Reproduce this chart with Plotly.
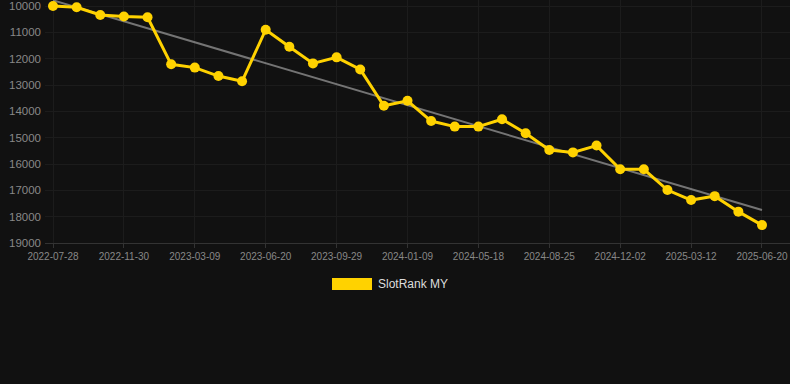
import numpy as np
import plotly.graph_objects as go

dates = [
    "2022-07-28", "2022-09-08", "2022-10-19", "2022-11-30", "2023-01-02", "2023-02-04",
    "2023-03-09", "2023-04-12", "2023-05-16", "2023-06-20", "2023-07-24", "2023-08-27",
    "2023-09-29", "2023-11-02", "2023-12-06", "2024-01-09", "2024-02-21", "2024-04-04",
    "2024-05-18", "2024-06-20", "2024-07-23", "2024-08-25", "2024-09-27", "2024-10-30",
    "2024-12-02", "2025-01-04", "2025-02-07", "2025-03-12", "2025-04-14", "2025-05-17",
    "2025-06-20",
]
ranks = [
    10000, 10050, 10340, 10400, 10430, 12215, 12340, 12660, 12860, 10900, 11545,
    12180, 11950, 12410, 13790, 13600, 14370, 14580, 14580, 14300, 14830, 15470,
    15560, 15300, 16200, 16200, 16990, 17370, 17220, 17810, 18320,
]
tick_dates = dates[::3]
y_ticks = [10000, 11000, 12000, 13000, 14000, 15000, 16000, 17000, 18000, 19000]
y_tick_text = [str(v) for v in y_ticks]
series_name = "SlotRank MY"

idx = np.arange(len(ranks))
slope, intercept = np.polyfit(idx, ranks, 1)
trend = slope * idx + intercept

YELLOW = "#FFD200"
FONT = "Arial, Liberation Sans, sans-serif"

fig = go.Figure()
fig.add_trace(go.Scatter(
    x=dates, y=trend, mode="lines",
    line=dict(color="rgba(150,150,150,0.75)", width=2),
    hoverinfo="skip", showlegend=False,
))
fig.add_trace(go.Scatter(
    x=dates, y=ranks, mode="lines+markers", name=series_name,
    line=dict(color=YELLOW, width=3),
    marker=dict(color=YELLOW, size=10),
    showlegend=False,
))

fig.add_shape(type="rect", xref="paper", yref="paper",
              x0=(332 - 45) / 745, x1=(372 - 45) / 745,
              y0=(243 - 290) / 243, y1=(243 - 278) / 243,
              fillcolor=YELLOW, line=dict(width=0))
fig.add_annotation(text=series_name, xref="paper", yref="paper",
                   x=(376 - 45) / 745, y=(243 - 284) / 243,
                   xanchor="left", yanchor="middle", showarrow=False,
                   font=dict(family=FONT, size=12, color="#dddddd"))

fig.update_layout(
    width=790, height=384,
    margin=dict(l=45, r=0, t=0, b=141),
    paper_bgcolor="#111111", plot_bgcolor="#111111",
    font=dict(family=FONT, color="#888888"),
    xaxis=dict(
        type="category",
        range=[-0.3385, 31.185],
        tickmode="array", tickvals=tick_dates, ticktext=tick_dates,
        tickfont=dict(size=10, color="#888888"),
        showgrid=True, gridcolor="#1c1c1c", gridwidth=1,
        showline=True, linecolor="#333333", linewidth=1,
        ticks="outside", ticklen=4, tickcolor="#333333",
        zeroline=False,
    ),
    yaxis=dict(
        range=[19000, 9772],
        tickmode="array", tickvals=y_ticks, ticktext=y_tick_text,
        tickfont=dict(size=11.5, color="#888888"),
        showgrid=True, gridcolor="#1c1c1c", gridwidth=1,
        showline=False, zeroline=False,
        ticks="", ticklabelstandoff=3,
    ),
)

fig.write_html("out.html")
